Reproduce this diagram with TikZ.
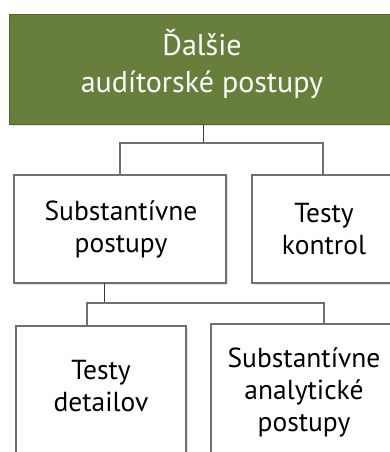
\documentclass[tikz,border=0pt]{standalone}
\usepackage{fontspec}
\setmainfont{PT Sans}
\usetikzlibrary{shadows}
\definecolor{olive}{HTML}{687E3B}
\definecolor{frame}{HTML}{707070}
\definecolor{wire}{HTML}{3A3A3A}
\tikzset{
  every picture/.style={x=1pt,y=-1pt},
  boxshadow/.style={drop shadow={shadow xshift=1.5pt,shadow yshift=-2pt,opacity=0.18,fill=black!60}},
  headbox/.style={draw=olive!80!black,line width=0.6pt,fill=olive,boxshadow},
  plainbox/.style={draw=frame,line width=1.1pt,fill=white,boxshadow},
  headtext/.style={text=white,font=\fontsize{30}{37}\selectfont,align=center},
  boxtext/.style={text=black,font=\fontsize{27.5}{32}\selectfont,align=center},
  wireline/.style={draw=wire,line width=0.9pt},
}
\begin{document}
\begin{tikzpicture}
\useasboundingbox (0,0) rectangle (390,452);
\begin{scope}
\clip (0,0) rectangle (390,452);
% boxes
\path[headbox] (9,14) rectangle (395,124);
\path[plainbox] (14,175) rectangle (226,283);
\path[plainbox] (252,175) rectangle (396,283);
\path[plainbox] (16,326) rectangle (186,460);
\path[plainbox] (211,324) rectangle (397,460);
% labels
\node[headtext] (root) at (202,64) {Ďalšie\\audítorské postupy};
\node[boxtext] (subst) at (121,229) {Substantívne\\postupy};
\node[boxtext] (ctrl) at (324,229) {Testy\\kontrol};
\node[boxtext] (detail) at (101,386) {Testy\\detailov};
\node[boxtext] (analyt) at (304,392) {Substantívne\\analytické\\postupy};
% anchor points on box edges
\coordinate (rootB) at (203,124);
\coordinate (substT) at (120,175);
\coordinate (ctrlT) at (323,175);
\coordinate (substB) at (104,283);
\coordinate (detailT) at (87,326);
\coordinate (analytT) at (324,324);
% connectors
\draw[wireline] (rootB) -- (203,143);
\draw[frame,line width=1.1pt] (substT) |- (ctrlT |- 0,143) -- (ctrlT);
\draw[wireline] (substB) -- (104,303);
\draw[frame,line width=1.1pt] (detailT) |- (analytT |- 0,303) -- (analytT);
\end{scope}
\end{tikzpicture}
\end{document}
